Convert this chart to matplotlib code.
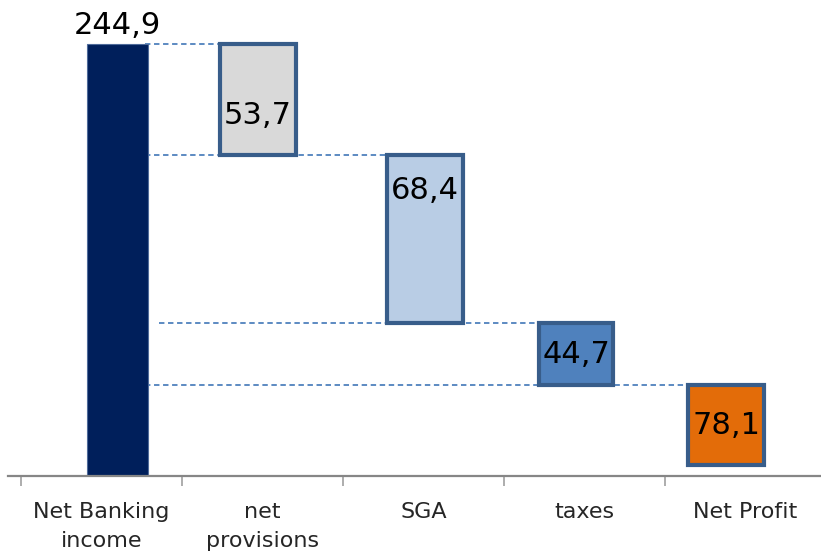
"""
Waterfall: from Net Banking income down to Net Profit
"""
import matplotlib
matplotlib.use("Agg")
import matplotlib.pyplot as plt

# ---------------------------------------------------------------------------
# Data (bar extents, labels as printed)
# ---------------------------------------------------------------------------
CATEGORIES = ["Net Banking\nincome", "net\nprovisions", "SGA", "taxes", "Net Profit"]
VALUE_LABELS = ["244,9", "53,7", "68,4", "44,7", "78,1"]
BAR_TOP = [244.9, 244.9, 182.0, 86.7, 51.6]
BAR_BOTTOM = [0.0, 182.0, 86.7, 51.6, 6.2]

# ---------------------------------------------------------------------------
# Style
# ---------------------------------------------------------------------------
FILLS = ["#001f5b", "#d9d9d9", "#b9cde5", "#4f81bd", "#e36c09"]
EDGE = "#385d8a"
LINK = "#4f81bd"
BAR_SHIFT = [0.10, -0.03, 0.01, -0.05, -0.12]
BAR_WIDTH = [0.38, 0.47, 0.47, 0.46, 0.47]
LABEL_POS = [None, 0.64, 0.21, 0.5, 0.5]   # fraction from top of bar

fig = plt.figure(figsize=(8.21, 5.6), dpi=100)
ax = fig.add_axes([8 / 821, 84 / 560, 818 / 821, 476 / 560])
ax.set_xlim(-0.5 - 13 / 161, 4.5)
ax.set_ylim(0, 476 / 1.764)

xs = [i + s for i, s in enumerate(BAR_SHIFT)]

# dashed connectors between consecutive levels
nbi_right = xs[0] + BAR_WIDTH[0] / 2
for k in range(1, len(CATEGORIES)):
    start = nbi_right + (0.07 if k == 3 else -0.02)
    ax.hlines(BAR_TOP[k], start, xs[k] + BAR_WIDTH[k] / 2,
              colors=LINK, linestyles=(0, (3, 2)), linewidth=1.3, zorder=1)

for k, x in enumerate(xs):
    h = BAR_TOP[k] - BAR_BOTTOM[k]
    if k == 0:
        ax.bar(x, h, bottom=BAR_BOTTOM[k], width=BAR_WIDTH[k], color=FILLS[k],
               edgecolor="#4f6b9a", linewidth=0.8, zorder=2)
        ax.text(x, BAR_TOP[k] + 2, VALUE_LABELS[k], ha="center", va="bottom",
                fontsize=22, color="black")
    else:
        ax.bar(x, h, bottom=BAR_BOTTOM[k], width=BAR_WIDTH[k], color=FILLS[k],
               edgecolor=EDGE, linewidth=3, zorder=2)
        y = BAR_TOP[k] - LABEL_POS[k] * h
        ax.text(x, y, VALUE_LABELS[k], ha="center", va="center",
                fontsize=22, color="black", zorder=3)

# axis: only the bottom line, ticks at category boundaries
for side in ["top", "right", "left"]:
    ax.spines[side].set_visible(False)
ax.spines["bottom"].set_color("#868686")
ax.spines["bottom"].set_linewidth(1.6)
ax.set_yticks([])
ax.set_xticks(range(len(CATEGORIES)))
ax.set_xticklabels(CATEGORIES, fontsize=16, color="#262626", linespacing=1.55)
ax.tick_params(axis="x", which="major", length=0, pad=19)
ax.set_xticks([i - 0.5 for i in range(len(CATEGORIES) + 1)], minor=True)
ax.tick_params(axis="x", which="minor", length=7, width=1.2, color="#a0a0a0")

fig.savefig("out.png", dpi=100)
